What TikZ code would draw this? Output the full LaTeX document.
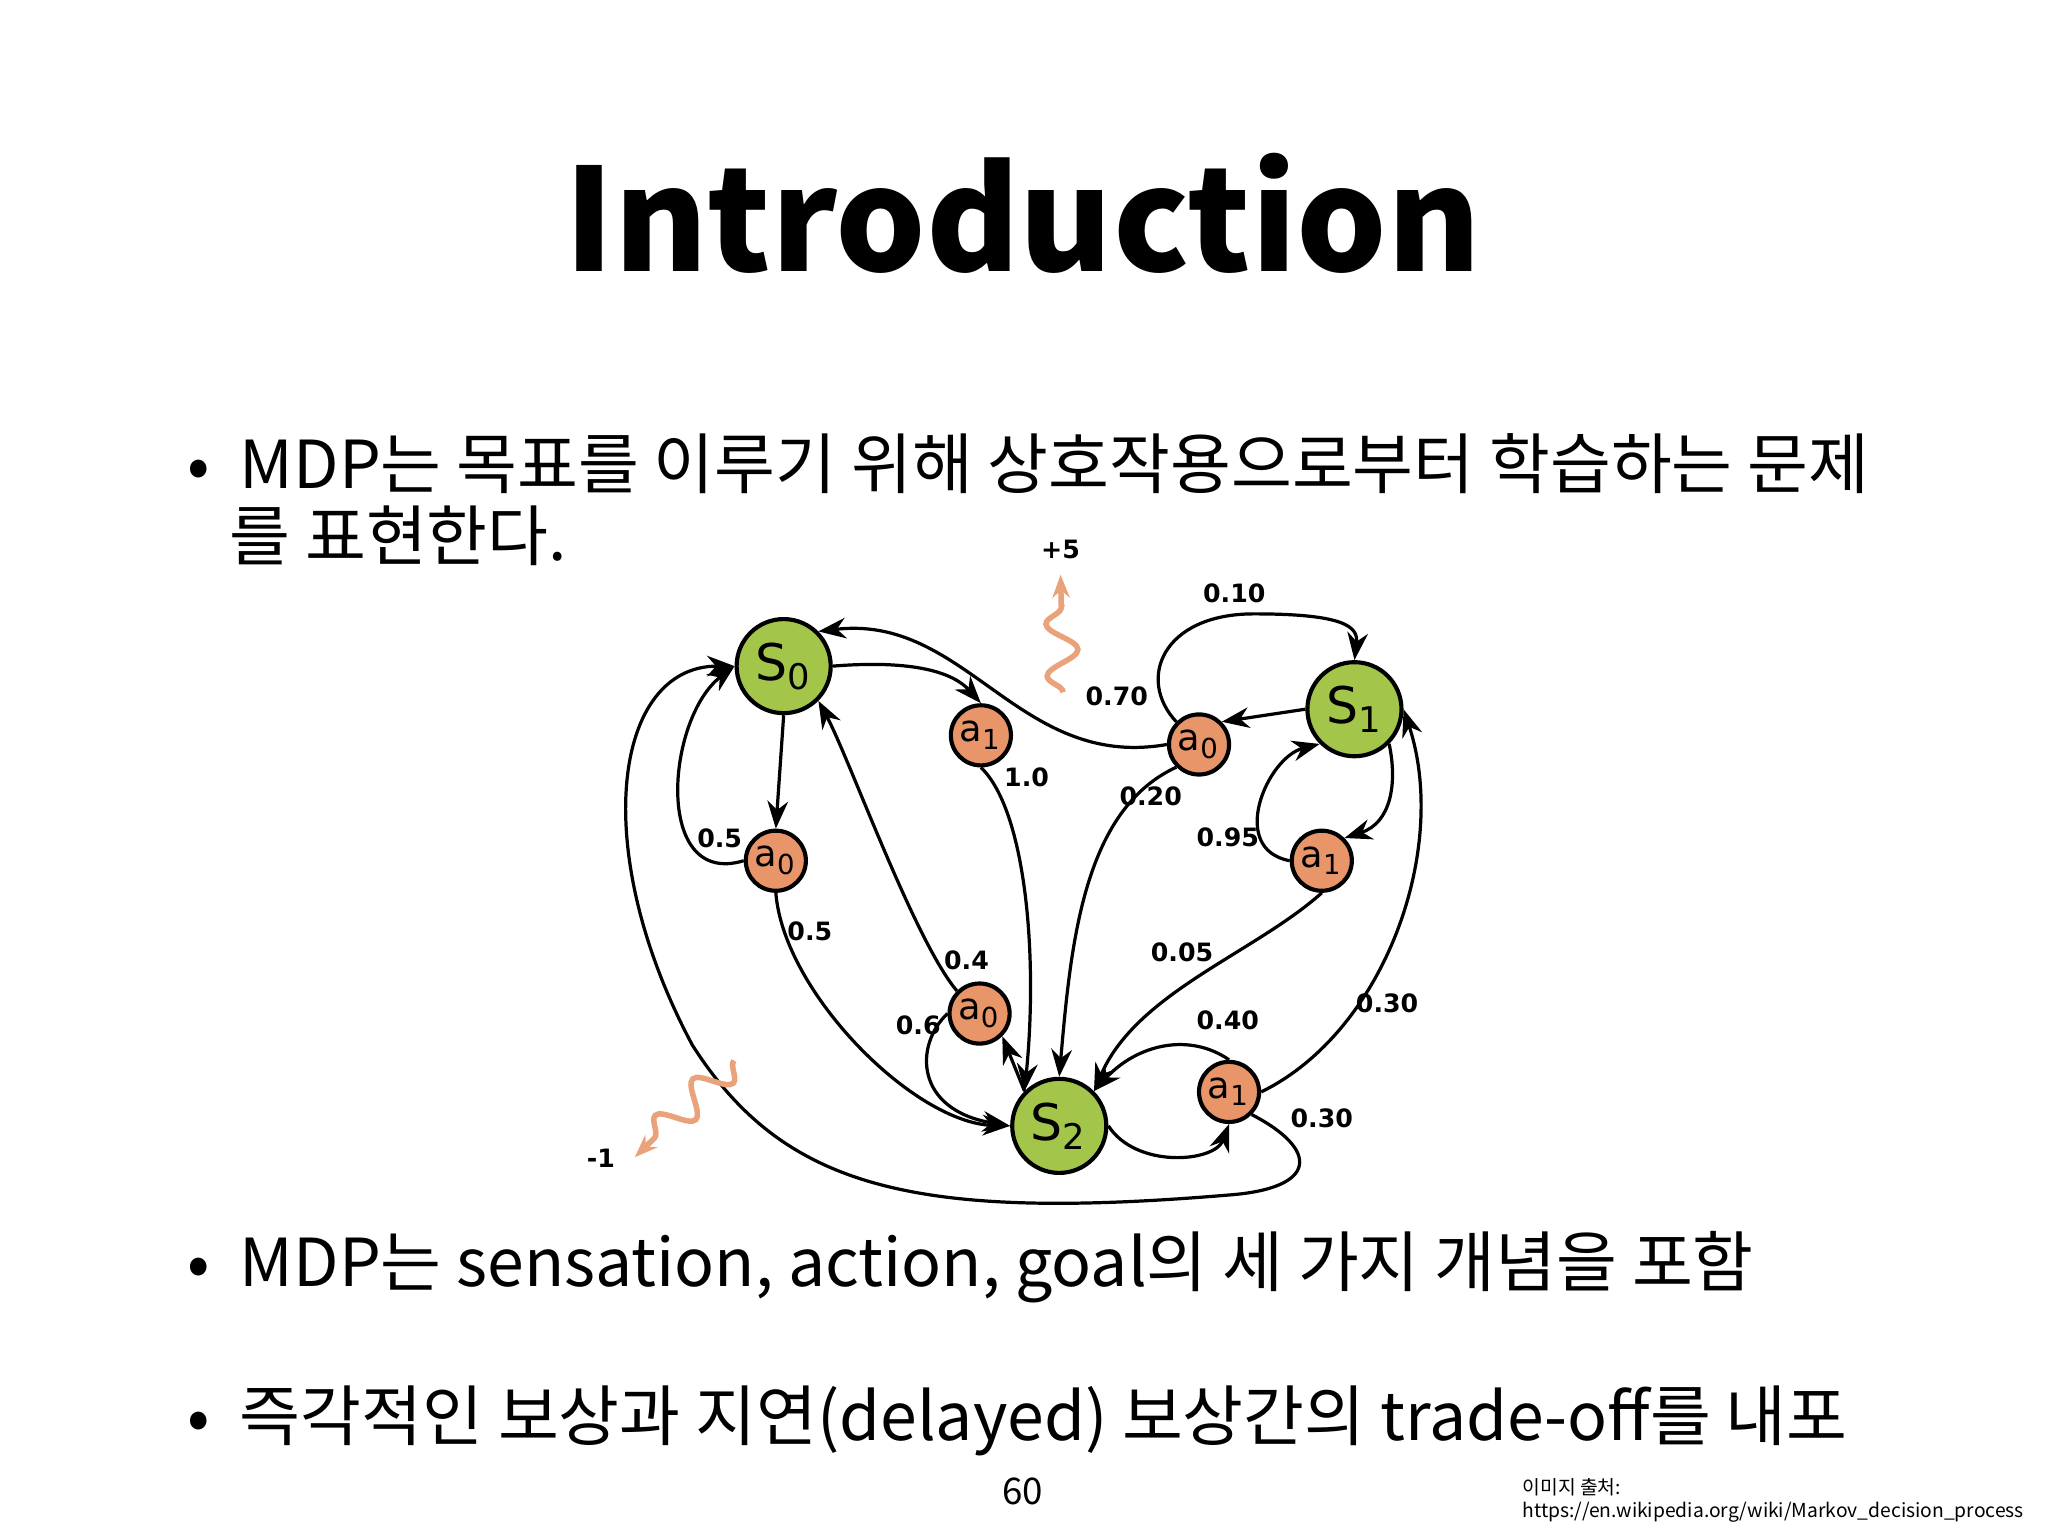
\documentclass[tikz,border=0pt]{standalone}
\usepackage{fontspec}
\setmainfont{Noto Sans CJK KR}
\newfontfamily\djv{DejaVu Sans}
\usetikzlibrary{arrows.meta,decorations.pathmorphing}
\definecolor{sgreen}{HTML}{A3C64A}
\definecolor{aorange}{HTML}{E8956A}
\definecolor{rew}{HTML}{E9A27A}
\tikzset{
 st/.style={circle,draw,line width=0.9pt,fill=sgreen,minimum size=0.72cm,inner sep=0pt,font=\djv\fontsize{11}{12}\selectfont},
 ac/.style={circle,draw,line width=0.9pt,fill=aorange,minimum size=0.46cm,inner sep=0pt,font=\djv\fontsize{8}{9}\selectfont},
 ed/.style={line width=0.7pt,-{Stealth[length=6pt,width=4.5pt]}},
 pl/.style={font=\djv\bfseries\fontsize{5.5}{6}\selectfont,inner sep=0pt},
 wig/.style={draw=rew,line width=1.2pt,decorate,decoration={snake,amplitude=1.2mm,segment length=4mm,post length=2mm},-{Stealth[length=5pt]}},
 bl/.style={anchor=west,inner sep=0pt,font=\fontsize{14.4}{17}\selectfont}
}
\begin{document}
\begin{tikzpicture}[x=0.01cm,y=-0.01cm]
\useasboundingbox (0,0) rectangle (1568,1176);
\fill[white] (0,0) rectangle (1568,1176);
\node[font=\bfseries\fontsize{31}{36}\selectfont,inner sep=0pt] (title) at (783,163) {Introduction};
\node[bl] (b1) at (143,355) {•\ \ MDP는 목표를 이루기 위해 상호작용으로부터 학습하는 문제};
\node[bl] (b1b) at (175,410) {를 표현한다.};
\node[bl] (b2) at (143,970) {•\ \ MDP는 sensation, action, goal의 세 가지 개념을 포함};
\node[bl] (b3) at (143,1088) {•\ \ 즉각적인 보상과 지연(delayed) 보상간의 trade-off를 내포};
\node[font=\fontsize{8}{9}\selectfont] (pg) at (783,1142) {60};
\node[anchor=west,font=\fontsize{4.2}{5}\selectfont,inner sep=0pt] (src1) at (1165,1139) {이미지 출처:};
\node[anchor=west,font=\fontsize{4.2}{5}\selectfont,inner sep=0pt] (src2) at (1165,1158) {https://en.wikipedia.org/wiki/Markov\_decision\_process};
% states
\node[st] (S0) at (600,510) {S\textsubscript{0}};
\node[st] (S1) at (1037,543) {S\textsubscript{1}};
\node[st] (S2) at (811,862) {S\textsubscript{2}};
\node[ac] (A01) at (751,563) {a\textsubscript{1}};
\node[ac] (A00) at (594,659) {a\textsubscript{0}};
\node[ac] (A10) at (918,570) {a\textsubscript{0}};
\node[ac] (A11) at (1012,659) {a\textsubscript{1}};
\node[ac] (A20) at (750,776) {a\textsubscript{0}};
\node[ac] (A21) at (941,836) {a\textsubscript{1}};
% edges
\draw[ed] (S0.east) .. controls (700,505) and (730,515) .. (A01.north);
\draw[ed] (A01.south) .. controls (785,620) and (795,730) .. (S2.north west);
\draw[ed] (S0.south) -- (A00.north);
\draw[ed] (A00.west) .. controls (500,680) and (510,550) .. (S0.west);
\draw[ed] (A00.south) .. controls (600,760) and (700,860) .. (S2.west);
\draw[ed] (A20.north west) .. controls (700,720) and (650,580) .. (S0.south east);
\draw[ed] (A20.west) .. controls (700,800) and (700,850) .. (S2.west);
\draw[ed] (S2.north west) -- (A20.south east);
\draw[ed] (S2.east) .. controls (870,895) and (930,890) .. (A21.south);
\draw[ed] (A21.north) .. controls (910,790) and (870,800) .. (S2.north east);
\draw[ed] (A21.east) .. controls (1060,790) and (1110,650) .. (S1.east);
\draw[ed] (A21.south east) .. controls (1010,880) and (1010,910) .. (940,915)
   .. controls (700,935) and (600,910) .. (530,800)
   .. controls (450,650) and (470,510) .. (S0.west);
\draw[ed] (S1.south east) .. controls (1070,600) and (1065,630) .. (A11.north east);
\draw[ed] (A11.west) .. controls (940,650) and (970,580) .. (S1.south west);
\draw[ed] (A11.south) .. controls (960,730) and (870,760) .. (S2.north east);
\draw[ed] (S1.west) -- (A10.north east);
\draw[ed] (A10.west) .. controls (780,590) and (740,470) .. (S0.north east);
\draw[ed] (A10.north west) .. controls (870,520) and (890,470) .. (960,470) .. controls (1030,470) and (1040,480) .. (S1.north);
\draw[ed] (A10.south west) .. controls (830,620) and (820,720) .. (S2.north);
% rewards
\draw[wig] (814,530) -- (812,440);
\node[pl] (r5) at (812,421) {+5};
\draw[wig] (562,812) -- (486,886);
\node[pl] (r1) at (460,887) {-1};
% probability labels
\node[pl] (p1) at (786,595) {1.0};
\node[pl] (p2) at (551,642) {0.5};
\node[pl] (p3) at (620,713) {0.5};
\node[pl] (p4) at (740,735) {0.4};
\node[pl] (p5) at (703,785) {0.6};
\node[pl] (p6) at (940,781) {0.40};
\node[pl] (p7) at (1062,768) {0.30};
\node[pl] (p8) at (1012,856) {0.30};
\node[pl] (p9) at (940,641) {0.95};
\node[pl] (p10) at (905,729) {0.05};
\node[pl] (p11) at (855,533) {0.70};
\node[pl] (p12) at (945,454) {0.10};
\node[pl] (p13) at (881,610) {0.20};
\end{tikzpicture}
\end{document}
